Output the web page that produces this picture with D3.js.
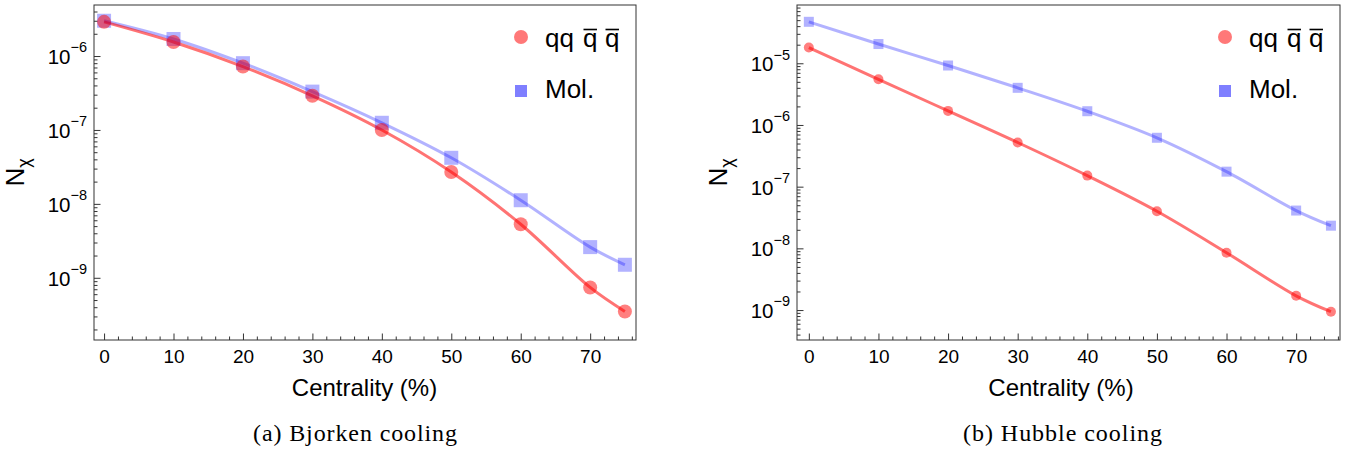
<!DOCTYPE html>
<html><head><meta charset="utf-8">
<script src="https://cdn.jsdelivr.net/npm/d3@7"></script>
<style>
body{margin:0;background:#fff;}
svg text{font-family:"Liberation Sans",Arial,sans-serif;fill:#000;}
</style></head>
<body><svg id="c" width="1351" height="452"></svg>
<script>
const centrality = [0,10,20,30,40,50,60,70,75];
const xTicks = [0,10,20,30,40,50,60,70];
// (a) Bjorken cooling
const bjorkenTetra = [2.9e-6,1.55e-6,7.2e-7,2.9e-7,1.0e-7,2.7e-8,5.3e-9,7.4e-10,3.5e-10];
const bjorkenMol   = [3.0e-6,1.7e-6,8.0e-7,3.3e-7,1.25e-7,4.2e-8,1.12e-8,2.6e-9,1.5e-9];
const bjorkenYTicks = [-9,-8,-7,-6];
// (b) Hubble cooling
const hubbleTetra = [1.8e-5,5.5e-6,1.69e-6,5.2e-7,1.51e-7,4.0e-8,8.5e-9,1.7e-9,9.4e-10];
const hubbleMol   = [4.7e-5,2.05e-5,9.2e-6,4.0e-6,1.67e-6,6.2e-7,1.75e-7,4.1e-8,2.33e-8];
const hubbleYTicks = [-9,-8,-7,-6,-5];
const legendLabels = ["qq", "q", "Mol."];
const captions = ["(a) Bjorken cooling", "(b) Hubble cooling"];

const svg = d3.select("#c");

function panel(o){
  const g = svg.append("g");
  const x = d3.scaleLinear().domain(o.xdom).range([o.left,o.right]);
  const y = d3.scaleLog().domain(o.ydom).range([o.bottom,o.top]);
  g.append("rect").attr("x",o.left).attr("y",o.top).attr("width",o.right-o.left).attr("height",o.bottom-o.top)
    .attr("fill","none").attr("stroke","#333").attr("stroke-width",1);
  const xMinor = d3.range(0,77,2).filter(v=>v%10!==0 && v<=o.xdom[1]);
  g.append("g").attr("transform",`translate(0,${o.bottom})`)
    .call(d3.axisBottom(x).tickValues(xMinor).tickSize(-3.5).tickFormat(""))
    .call(a=>{a.select(".domain").remove();a.selectAll("line").attr("stroke","#333");});
  g.append("g").attr("transform",`translate(0,${o.bottom})`)
    .call(d3.axisBottom(x).tickValues(xTicks).tickSize(-6.5).tickPadding(10).tickFormat(d3.format("d")))
    .call(a=>{a.select(".domain").remove();a.selectAll("line").attr("stroke","#333");
      a.selectAll("text").attr("font-size",19).attr("font-family","Liberation Sans, Arial, sans-serif");});
  const yMinor = [];
  for(let e=-11;e<=-3;e++) for(let m=2;m<=9;m++){const v=m*Math.pow(10,e); if(v>o.ydom[0]&&v<o.ydom[1]) yMinor.push(v);}
  g.append("g").attr("transform",`translate(${o.left},0)`)
    .call(d3.axisLeft(y).tickValues(yMinor).tickSize(-3.5).tickFormat(""))
    .call(a=>{a.select(".domain").remove();a.selectAll("line").attr("stroke","#333");});
  const yMaj = o.yticks.map(e=>Math.pow(10,e));
  const ya = g.append("g").attr("transform",`translate(${o.left},0)`)
    .call(d3.axisLeft(y).tickValues(yMaj).tickSize(-6.5).tickPadding(7).tickFormat(""));
  ya.select(".domain").remove(); ya.selectAll("line").attr("stroke","#333");
  ya.selectAll("text").each(function(d){
    const t = d3.select(this).attr("font-size",20.5).attr("dy","0.36em").attr("x",-7)
      .attr("font-family","Liberation Sans, Arial, sans-serif");
    t.append("tspan").text("10");
    t.append("tspan").attr("font-size",14.5).attr("dy","-0.8em").text("\u2212"+(-Math.round(Math.log10(d))));
  });
  const yl = g.append("text").attr("transform",`translate(${o.left-70},${(o.top+o.bottom)/2}) rotate(-90)`)
    .attr("text-anchor","middle").attr("font-size",26);
  yl.append("tspan").text("N");
  yl.append("tspan").attr("font-size",18).attr("dy",6).text("\u03c7");
  g.append("text").attr("x",o.labx).attr("y",396).attr("text-anchor","middle")
    .attr("font-size",24).text("Centrality (%)");
  g.append("text").attr("x",o.capx).attr("y",441).attr("text-anchor","middle")
    .attr("font-size",24).attr("textLength",o.capw).attr("lengthAdjust","spacing")
    .style("font-family","'Liberation Serif',serif").text(o.caption);

  const line = d3.line().x((d,i)=>x(centrality[i])).y(d=>y(d)).curve(d3.curveCatmullRom.alpha(0.5));
  g.append("path").datum(o.mol).attr("d",line).attr("fill","none").attr("stroke","#0000ff").attr("stroke-opacity",0.3).attr("stroke-width",3);
  g.append("path").datum(o.tetra).attr("d",line).attr("fill","none").attr("stroke","#ff0000").attr("stroke-opacity",0.55).attr("stroke-width",3);
  g.selectAll(".sq").data(o.mol).enter().append("rect")
    .attr("x",(d,i)=>x(centrality[i])-o.sq/2).attr("y",d=>y(d)-o.sq/2).attr("width",o.sq).attr("height",o.sq)
    .attr("fill","#0000ff").attr("fill-opacity",0.3);
  g.selectAll(".ci").data(o.tetra).enter().append("circle")
    .attr("cx",(d,i)=>x(centrality[i])).attr("cy",d=>y(d)).attr("r",o.r)
    .attr("fill","#ff0000").attr("fill-opacity",0.5);
  const lx = o.legx;
  g.append("circle").attr("cx",lx).attr("cy",37).attr("r",7).attr("fill","#ff0000").attr("fill-opacity",0.53);
  g.append("rect").attr("x",lx-6).attr("y",85).attr("width",12).attr("height",12).attr("fill","#0000ff").attr("fill-opacity",0.5);
  g.append("text").attr("x",lx+24).attr("y",47).attr("font-size",26).text(legendLabels[0]);
  [lx+62, lx+84].forEach(px=>{
    const t = g.append("text").attr("x",px).attr("y",47).attr("font-size",26).text(legendLabels[1]);
    const w = t.node().getComputedTextLength();
    g.append("line").attr("x1",px+0.5).attr("x2",px+w-0.5).attr("y1",29.5).attr("y2",29.5)
      .attr("stroke","#000").attr("stroke-width",1.6);
  });
  g.append("text").attr("x",lx+24).attr("y",98).attr("font-size",26).text(legendLabels[2]);
}

panel({left:94,right:636,top:5,bottom:340,xdom:[-1.45,76.6],ydom:[1.44e-10,4.9e-6],
  yticks:bjorkenYTicks,tetra:bjorkenTetra,mol:bjorkenMol,r:7,sq:14,legx:521,labx:364.5,capx:355,capw:204,caption:captions[0]});
panel({left:797,right:1340,top:5,bottom:340,xdom:[-1.7,76.3],ydom:[3.27e-10,8.8e-5],
  yticks:hubbleYTicks,tetra:hubbleTetra,mol:hubbleMol,r:5,sq:10,legx:1225,labx:1061,capx:1062.5,capw:199,caption:captions[1]});
</script></body></html>
